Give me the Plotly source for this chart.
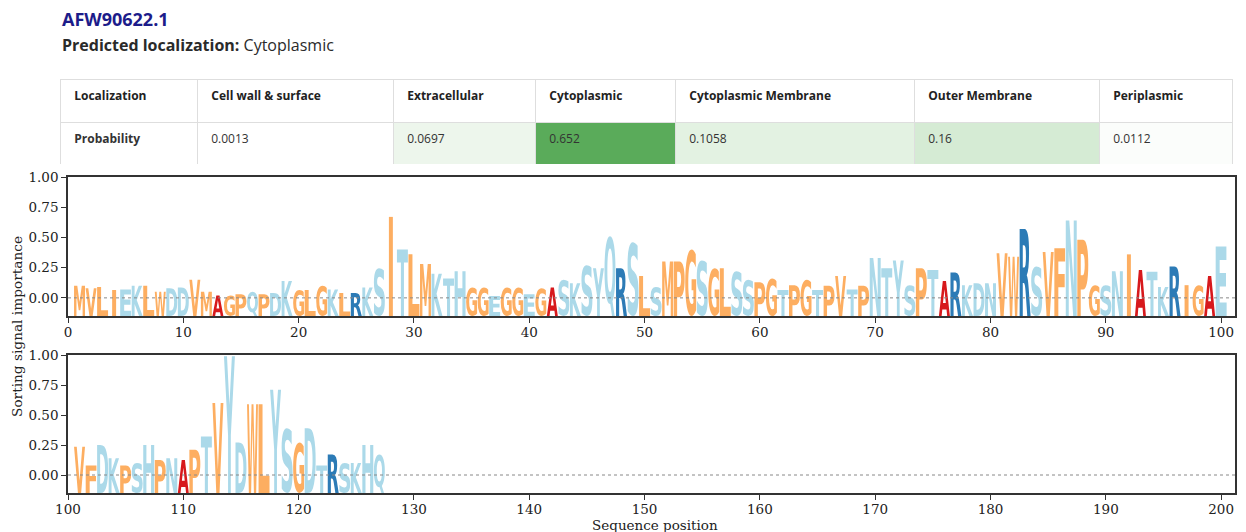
import os
import glob
import struct
import subprocess
import plotly.graph_objects as go

# ---------------- data ----------------
protein_id = "AFW90622.1"
predicted_localization = "Cytoplasmic"
localizations = ["Cell wall & surface", "Extracellular", "Cytoplasmic",
                 "Cytoplasmic Membrane", "Outer Membrane", "Periplasmic"]
probabilities = [0.0013, 0.0697, 0.652, 0.1058, 0.16, 0.0112]

residues_top = list("MVLIEKLWDDVMAGPQPDKGLGKLRKSITLMKTHGGEGGEGASKSYQRSLSMPGSGLSSPGTPGTPVTPNTYSPTARKDNVWRSVFNPGSNIATKRIGAE")
importance_top = [
    0.10, 0.08, 0.09, 0.065, 0.07, 0.10, 0.10, 0.05, 0.08, 0.085,
    0.15, 0.05, 0.02, 0.02, 0.03, 0.05, 0.03, 0.04, 0.14, 0.065,
    0.065, 0.10, 0.07, 0.04, 0.04, 0.085, 0.245, 0.67, 0.40, 0.36,
    0.28, 0.20, 0.16, 0.22, 0.085, 0.085, 0.015, 0.085, 0.085, 0.03,
    0.08, 0.085, 0.15, 0.12, 0.27, 0.245, 0.51, 0.245, 0.46, 0.18,
    0.09, 0.30, 0.30, 0.40, 0.31, 0.245, 0.245, 0.22, 0.15, 0.13,
    0.16, 0.065, 0.105, 0.15, 0.065, 0.10, 0.18, 0.07, 0.10, 0.33,
    0.245, 0.31, 0.105, 0.245, 0.23, 0.14, 0.21, 0.105, 0.12, 0.12,
    0.37, 0.34, 0.57, 0.26, 0.38, 0.41, 0.64, 0.48, 0.105, 0.105,
    0.22, 0.36, 0.23, 0.217, 0.09, 0.26, 0.105, 0.105, 0.18, 0.425,
]
positions_top = list(range(1, len(residues_top) + 1))

residues_bottom = list("VFDKPSHPNAPTVYDWLYSGDTRSKHQ")
importance_bottom = [
    0.236, 0.08, 0.25, 0.14, 0.08, 0.10, 0.25, 0.125, 0.14, 0.125,
    0.21, 0.32, 0.60, 0.99, 0.27, 0.59, 0.59, 0.71, 0.39, 0.27,
    0.39, 0.08, 0.17, 0.10, 0.10, 0.25, 0.17,
]
positions_bottom = list(range(101, 101 + len(residues_bottom)))

x_ticks_top = list(range(0, 101, 10))
x_ticks_bottom = list(range(100, 201, 10))
y_ticks = [0.0, 0.25, 0.5, 0.75, 1.0]

# ---------------- style ----------------
W, H = 1246, 532
COLORS = {}
for c in "MVLIWGPFC":
    COLORS[c] = "#fdae61"
for c in "EKDQSTHYN":
    COLORS[c] = "#abd9e9"
COLORS["A"] = "#d7191c"
COLORS["R"] = "#2c7bb6"
Y_FLOOR = -0.15
LETTER_W = 0.95
SERIF = "DejaVu Serif"
SANS = "Open Sans"
PAD = "\u00a0\u00a0"


def px_x(p):
    return p / W


def px_y(p):
    return 1 - p / H


# ---------------- minimal TrueType glyph reader ----------------
def find_font():
    names = ["DejaVuSans-Bold.ttf", "LiberationSans-Bold.ttf", "NotoSans-Bold.ttf",
             "Roboto-Bold.ttf", "OpenSans-Bold.ttf", "Lato-Bold.ttf"]
    roots = ["/usr/share/fonts", "/usr/local/share/fonts",
             os.path.expanduser("~/.fonts"), os.path.expanduser("~/.local/share/fonts")]
    for n in names:
        for r in roots:
            hits = glob.glob(os.path.join(r, "**", n), recursive=True)
            if hits:
                return hits[0]
    try:
        out = subprocess.run(["fc-match", "-f", "%{file}", "DejaVu Sans:bold"],
                             capture_output=True, text=True, timeout=10).stdout.strip()
        if out.endswith(".ttf") and os.path.exists(out):
            return out
    except Exception:
        pass
    return None


def load_glyphs(path, chars):
    data = open(path, "rb").read()
    num_tables = struct.unpack(">H", data[4:6])[0]
    tables = {}
    for i in range(num_tables):
        tag, _, off, ln = struct.unpack(">4sIII", data[12 + 16 * i:28 + 16 * i])
        tables[tag.decode("latin1")] = (off, ln)
    head = tables["head"][0]
    locfmt = struct.unpack(">h", data[head + 50:head + 52])[0]
    maxp = tables["maxp"][0]
    n_glyphs = struct.unpack(">H", data[maxp + 4:maxp + 6])[0]
    lo = tables["loca"][0]
    if locfmt == 0:
        loca = [struct.unpack(">H", data[lo + 2 * i:lo + 2 * i + 2])[0] * 2 for i in range(n_glyphs + 1)]
    else:
        loca = [struct.unpack(">I", data[lo + 4 * i:lo + 4 * i + 4])[0] for i in range(n_glyphs + 1)]
    glyf = tables["glyf"][0]
    cmap = tables["cmap"][0]
    nsub = struct.unpack(">H", data[cmap + 2:cmap + 4])[0]
    charmap = {}
    for i in range(nsub):
        pid, eid, off = struct.unpack(">HHI", data[cmap + 4 + 8 * i:cmap + 12 + 8 * i])
        st = cmap + off
        fmt = struct.unpack(">H", data[st:st + 2])[0]
        if fmt != 4 or charmap:
            continue
        segx2 = struct.unpack(">H", data[st + 6:st + 8])[0]
        seg = segx2 // 2
        ends = struct.unpack(">%dH" % seg, data[st + 14:st + 14 + segx2])
        starts = struct.unpack(">%dH" % seg, data[st + 16 + segx2:st + 16 + 2 * segx2])
        deltas = struct.unpack(">%dh" % seg, data[st + 16 + 2 * segx2:st + 16 + 3 * segx2])
        rpos = st + 16 + 3 * segx2
        roffs = struct.unpack(">%dH" % seg, data[rpos:rpos + segx2])
        for ch in chars:
            c = ord(ch)
            for k in range(seg):
                if starts[k] <= c <= ends[k]:
                    if roffs[k] == 0:
                        g = (c + deltas[k]) & 0xFFFF
                    else:
                        addr = rpos + 2 * k + roffs[k] + 2 * (c - starts[k])
                        g = struct.unpack(">H", data[addr:addr + 2])[0]
                        if g:
                            g = (g + deltas[k]) & 0xFFFF
                    charmap[ch] = g
                    break

    def contours_of(gid):
        start = glyf + loca[gid]
        end = glyf + loca[gid + 1]
        if end <= start:
            return []
        nc = struct.unpack(">h", data[start:start + 2])[0]
        p = start + 10
        if nc >= 0:
            endpts = struct.unpack(">%dH" % nc, data[p:p + 2 * nc])
            p += 2 * nc
            ilen = struct.unpack(">H", data[p:p + 2])[0]
            p += 2 + ilen
            npts = endpts[-1] + 1 if nc else 0
            flags = []
            while len(flags) < npts:
                f = data[p]
                p += 1
                flags.append(f)
                if f & 8:
                    r = data[p]
                    p += 1
                    flags.extend([f] * r)
            flags = flags[:npts]
            xs, v = [], 0
            for f in flags:
                if f & 2:
                    d = data[p]
                    p += 1
                    v += d if f & 16 else -d
                elif not (f & 16):
                    v += struct.unpack(">h", data[p:p + 2])[0]
                    p += 2
                xs.append(v)
            ys, v = [], 0
            for f in flags:
                if f & 4:
                    d = data[p]
                    p += 1
                    v += d if f & 32 else -d
                elif not (f & 32):
                    v += struct.unpack(">h", data[p:p + 2])[0]
                    p += 2
                ys.append(v)
            res, s = [], 0
            for e in endpts:
                res.append([(xs[i], ys[i], flags[i] & 1) for i in range(s, e + 1)])
                s = e + 1
            return res
        res = []
        while True:
            fl, gi = struct.unpack(">HH", data[p:p + 4])
            p += 4
            if fl & 1:
                a1, a2 = struct.unpack(">hh", data[p:p + 4])
                p += 4
            else:
                a1, a2 = struct.unpack(">bb", data[p:p + 2])
                p += 2
            sx = sy = 1.0
            s01 = s10 = 0.0
            if fl & 8:
                sx = sy = struct.unpack(">h", data[p:p + 2])[0] / 16384
                p += 2
            elif fl & 0x40:
                sx, sy = [t / 16384 for t in struct.unpack(">hh", data[p:p + 4])]
                p += 4
            elif fl & 0x80:
                sx, s01, s10, sy = [t / 16384 for t in struct.unpack(">hhhh", data[p:p + 8])]
                p += 8
            dx, dy = (a1, a2) if fl & 2 else (0, 0)
            for c in contours_of(gi):
                res.append([(sx * x + s10 * y + dx, s01 * x + sy * y + dy, on) for x, y, on in c])
            if not (fl & 0x20):
                break
        return res

    out = {}
    for ch, g in charmap.items():
        out[ch] = contours_of(g)
    return out


def contour_ops(c):
    pts = list(c)
    k = next((i for i, t in enumerate(pts) if t[2]), None)
    if k is None:
        mx = (pts[0][0] + pts[-1][0]) / 2
        my = (pts[0][1] + pts[-1][1]) / 2
        pts = [(mx, my, 1)] + pts
        k = 0
    pts = pts[k:] + pts[:k]
    ops = [("M", (pts[0][0], pts[0][1]))]
    prev = None
    for (x, y, on) in pts[1:] + [pts[0]]:
        if on:
            if prev is None:
                ops.append(("L", (x, y)))
            else:
                ops.append(("Q", prev, (x, y)))
                prev = None
        else:
            if prev is None:
                prev = (x, y)
            else:
                mid = ((prev[0] + x) / 2, (prev[1] + y) / 2)
                ops.append(("Q", prev, mid))
                prev = (x, y)
    ops.append(("Z",))
    return ops


font_path = find_font()
glyphs = {}
if font_path:
    try:
        glyphs = load_glyphs(font_path, set(residues_top + residues_bottom + ["E"]))
    except Exception:
        glyphs = {}


def bbox(contours):
    xs = [p[0] for c in contours for p in c]
    ys = [p[1] for c in contours for p in c]
    return min(xs), min(ys), max(xs), max(ys)


ref_w = None
if "E" in glyphs and glyphs["E"]:
    b = bbox(glyphs["E"])
    ref_w = b[2] - b[0]


def letter_path(ch, xc, ytop):
    contours = glyphs[ch]
    gx0, gy0, gx1, gy1 = bbox(contours)
    gw = gx1 - gx0
    hs = min(LETTER_W / gw, LETTER_W / ref_w) if ref_w else LETTER_W / gw
    left = xc - gw * hs / 2
    vs = (ytop - Y_FLOOR) / (gy1 - gy0)

    def tf(pt):
        return "%.4f,%.5f" % (left + (pt[0] - gx0) * hs, Y_FLOOR + (pt[1] - gy0) * vs)

    parts = []
    for c in contours:
        for op in contour_ops(c):
            if op[0] == "M":
                parts.append("M" + tf(op[1]))
            elif op[0] == "L":
                parts.append("L" + tf(op[1]))
            elif op[0] == "Q":
                parts.append("Q" + tf(op[1]) + " " + tf(op[2]))
            else:
                parts.append("Z")
    return " ".join(parts)


# ---------------- figure ----------------
fig = go.Figure()

header_vals = [PAD + "<b>Localization</b>"] + [PAD + "<b>%s</b>" % s.replace("&", "&amp;") for s in localizations]
cell_vals = [[PAD + "<b>Probability</b>"]] + [[PAD + "<span>%s</span>" % p] for p in probabilities]
cell_fill = [["#ffffff"], ["#ffffff"], ["#edf6ec"], ["#5aab5a"], ["#e3f2e2"], ["#d5ebd4"], ["#fbfdfb"]]

fig.add_trace(go.Table(
    domain=dict(x=[px_x(60), px_x(1232)], y=[px_y(164), px_y(79)]),
    columnwidth=[137, 196, 142, 140, 239, 185, 133],
    header=dict(values=header_vals, height=43, align="left",
                fill=dict(color="#ffffff"), line=dict(color="#dedede", width=1),
                font=dict(family=SANS, size=12, color="#222222")),
    cells=dict(values=cell_vals, height=42, align="left",
               fill=dict(color=cell_fill), line=dict(color="#dedede", width=1),
               font=dict(family=SANS, size=12, color="#333333")),
))

for res, imp, pos, xa, ya in [(residues_top, importance_top, positions_top, "x", "y"),
                              (residues_bottom, importance_bottom, positions_bottom, "x2", "y2")]:
    fig.add_trace(go.Scatter(
        x=pos, y=imp, mode="markers", xaxis=xa, yaxis=ya,
        marker=dict(opacity=0, size=8), text=res, showlegend=False,
        hovertemplate="%{text} %{x}: %{y:.3f}<extra></extra>"))

shapes = []
annotations = []
for res, imp, pos, xa, ya in [(residues_top, importance_top, positions_top, "x", "y"),
                              (residues_bottom, importance_bottom, positions_bottom, "x2", "y2")]:
    for ch, v, p in zip(res, imp, pos):
        if ch in glyphs and glyphs[ch]:
            shapes.append(dict(type="path", xref=xa, yref=ya, path=letter_path(ch, p, v),
                               fillcolor=COLORS.get(ch, "#999999"), line=dict(width=0),
                               layer="above"))
        else:
            annotations.append(dict(x=p, y=(v + Y_FLOOR) / 2, xref=xa, yref=ya, text="<b>%s</b>" % ch,
                                    showarrow=False, font=dict(family="DejaVu Sans", size=12,
                                                               color=COLORS.get(ch, "#999"))))
    shapes.append(dict(type="line", xref=xa + " domain", yref=ya, x0=0, x1=1, y0=0, y1=0,
                       line=dict(color="#888888", width=1, dash="dot"), layer="above"))

annotations += [
    dict(x=px_x(60), y=px_y(19), xref="paper", yref="paper", xanchor="left", yanchor="middle",
         text="<b>%s</b>" % protein_id, showarrow=False,
         font=dict(family=SANS, size=18, color="#1c1c8a")),
    dict(x=px_x(60), y=px_y(45), xref="paper", yref="paper", xanchor="left", yanchor="middle",
         text="<b>Predicted localization:</b> %s" % predicted_localization, showarrow=False,
         font=dict(family=SANS, size=16, color="#2a2a2a")),
    dict(x=px_x(17), y=px_y(327), xref="paper", yref="paper", xanchor="center", yanchor="middle",
         text="Sorting signal importance", textangle=-90, showarrow=False,
         font=dict(family=SERIF, size=13.7, color="#222222")),
    dict(x=px_x(655), y=px_y(525), xref="paper", yref="paper", xanchor="center", yanchor="middle",
         text="Sequence position", showarrow=False,
         font=dict(family=SERIF, size=13.5, color="#222222")),
]

axis_common = dict(showline=True, mirror=True, linecolor="#333333", linewidth=1.5,
                   ticks="outside", ticklen=5, tickwidth=1.2, tickcolor="#333333",
                   showgrid=False, zeroline=False, automargin=False,
                   tickfont=dict(family=SERIF, size=13.5, color="#222222"))

x_dom = [px_x(68), px_x(1235)]
fig.update_layout(
    width=W, height=H, margin=dict(l=0, r=0, t=0, b=0, autoexpand=False),
    paper_bgcolor="white", plot_bgcolor="white", showlegend=False,
    xaxis=dict(domain=x_dom, anchor="y", range=[0, 101.2], tickvals=x_ticks_top,
               ticklabelstandoff=-2, **axis_common),
    yaxis=dict(domain=[px_y(316), px_y(177)], anchor="x", range=[Y_FLOOR, 1.0],
               tickvals=y_ticks, tickformat=".2f", **axis_common),
    xaxis2=dict(domain=x_dom, anchor="y2", range=[100, 201.2], tickvals=x_ticks_bottom,
                ticklabelstandoff=-2, **axis_common),
    yaxis2=dict(domain=[px_y(493), px_y(355)], anchor="x2", range=[Y_FLOOR, 1.0],
                tickvals=y_ticks, tickformat=".2f", **axis_common),
    shapes=shapes,
    annotations=annotations,
)

fig.write_html("out.html", config={"displayModeBar": False})
